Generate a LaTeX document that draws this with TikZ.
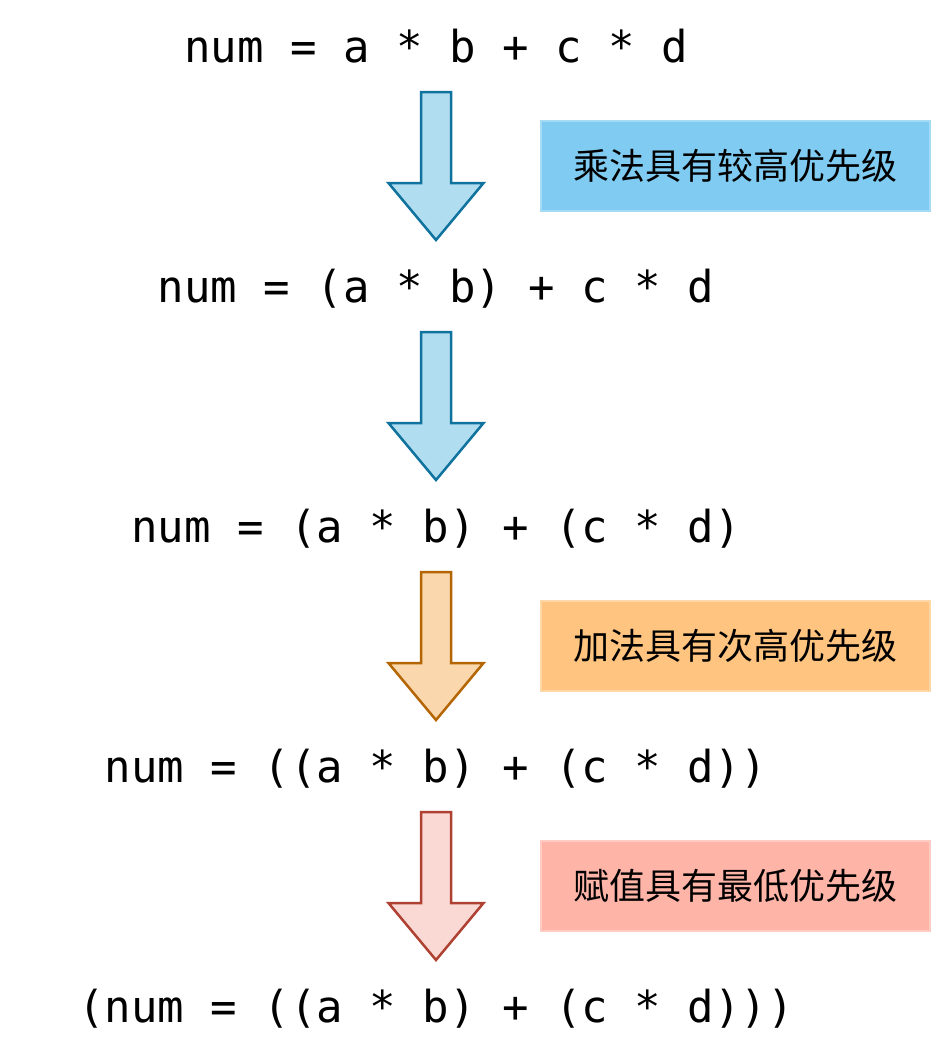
\documentclass[tikz,border=0pt]{standalone}
\usepackage{fontspec}
\setmonofont{DejaVu Sans Mono}
\newfontfamily\cjk{Noto Sans CJK SC}
\usepackage{tikz}
\usetikzlibrary{calc}
\usetikzlibrary{positioning}

\definecolor{blueFill}{HTML}{B1DDF0}
\definecolor{blueLine}{HTML}{10739E}
\definecolor{orangeFill}{HTML}{FAD7AC}
\definecolor{orangeLine}{HTML}{B46504}
\definecolor{redFill}{HTML}{FAD9D5}
\definecolor{redLine}{HTML}{AE4132}
\definecolor{blueNote}{HTML}{80CBF1}
\definecolor{orangeNote}{HTML}{FFC47F}
\definecolor{redNote}{HTML}{FFB4A8}

\begin{document}
\begin{tikzpicture}
		[x=1pt,y=-1pt,
		font=\ttfamily\fontsize{44}{44}\selectfont
		]
		\useasboundingbox (0,0) rectangle (930,1050);
		
		% Two node styles: expressions and notes
		\tikzstyle{expr}=[inner sep=0,anchor=base]
		\tikzstyle{note}=[inner sep=0,minimum width=389,minimum height=90,line width=1.2,
			font=\cjk\fontsize{36}{36}\selectfont]
		\tikzstyle{block arrow}=[line width=2.5,line join=miter]
		
		% The expressions, one step per line
		\node[expr](e1)at(436,62){num = a * b + c * d};
		\node[expr](e2)at(436,302){num = (a * b) + c * d};
		\node[expr](e3)at(436,542){num = (a * b) + (c * d)};
		\node[expr](e4)at(436,782){num = ((a * b) + (c * d))};
		\node[expr](e5)at(436,1022){(num = ((a * b) + (c * d)))};
		
		% Arrows from one line to the next
		\foreach \x/\y/\f/\d in {1/2/blueFill/blueLine, 2/3/blueFill/blueLine,
			3/4/orangeFill/orangeLine, 4/5/redFill/redLine}{
			\coordinate(t\x)at($(e\x.base)+(0,30)$);
			\draw[block arrow,fill=\f,draw=\d]
				($(t\x)+(-15,0)$)--($(t\x)+(15,0)$)--($(t\x)+(15,91)$)--($(t\x)+(47.5,91)$)
				--($(t\x)+(0,148)$)--($(t\x)+(-47.5,91)$)--($(t\x)+(-15,91)$)--cycle;
		}
		
		% Notes beside the arrows
		\node[note,fill=blueNote,draw=blueNote!70!white](n1)at($(t1)+(299.5,74)$){乘法具有较高优先级};
		\node[note,fill=orangeNote,draw=orangeNote!70!white](n3)at($(t3)+(299.5,74)$){加法具有次高优先级};
		\node[note,fill=redNote,draw=redNote!70!white](n4)at($(t4)+(299.5,74)$){赋值具有最低优先级};
		\end{tikzpicture}
\end{document}
